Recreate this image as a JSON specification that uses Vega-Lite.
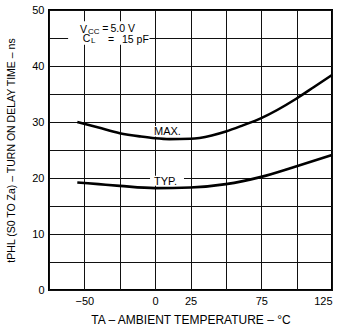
{
  "$schema": "https://vega.github.io/schema/vega-lite/v6.json",
  "width": 283,
  "height": 280,
  "autosize": {"type": "none"},
  "padding": {"left": 49, "top": 10, "right": 7, "bottom": 41},
  "background": "white",
  "config": {
    "font": "Liberation Sans",
    "view": {"stroke": "black", "strokeWidth": 2},
    "axis": {
      "domain": false,
      "ticks": false,
      "grid": true,
      "gridColor": "#111",
      "gridWidth": 1,
      "labelOverlap": false,
      "labelColor": "black",
      "labelFont": "Liberation Sans",
      "labelFontSize": 11,
      "titleFont": "Liberation Sans",
      "titleFontSize": 10.5,
      "titleFontWeight": "normal",
      "titleColor": "black"
    }
  },
  "datasets": {
    "curves": [
      {"series": "MAX", "t": -55, "v": 30.0},
      {"series": "MAX", "t": -40, "v": 29.0},
      {"series": "MAX", "t": -25, "v": 28.0},
      {"series": "MAX", "t": -10, "v": 27.4},
      {"series": "MAX", "t": 0, "v": 27.1},
      {"series": "MAX", "t": 10, "v": 26.95},
      {"series": "MAX", "t": 25, "v": 27.0},
      {"series": "MAX", "t": 40, "v": 27.6},
      {"series": "MAX", "t": 50, "v": 28.3},
      {"series": "MAX", "t": 62, "v": 29.4},
      {"series": "MAX", "t": 75, "v": 30.7},
      {"series": "MAX", "t": 100, "v": 34.2},
      {"series": "MAX", "t": 112, "v": 36.2},
      {"series": "MAX", "t": 125, "v": 38.4},
      {"series": "TYP", "t": -55, "v": 19.2},
      {"series": "TYP", "t": -40, "v": 18.9},
      {"series": "TYP", "t": -25, "v": 18.6},
      {"series": "TYP", "t": 0, "v": 18.2},
      {"series": "TYP", "t": 25, "v": 18.3},
      {"series": "TYP", "t": 50, "v": 18.9},
      {"series": "TYP", "t": 75, "v": 20.2},
      {"series": "TYP", "t": 100, "v": 22.1},
      {"series": "TYP", "t": 125, "v": 24.1}
    ],
    "boxes": [
      {"x1": -61.5, "x2": -4, "y1": 48, "y2": 43.8},
      {"x1": -2.2, "x2": 19.7, "y1": 29.3, "y2": 27.4},
      {"x1": -3.6, "x2": 20.4, "y1": 20.4, "y2": 18.6}
    ],
    "labels": [
      {"x": 8.7, "y": 28.3, "text": "MAX."},
      {"x": 7.3, "y": 19.3, "text": "TYP."}
    ],
    "notes": [
      {"x": -53.1, "y": 46.5, "text": "V"},
      {"x": -37.3, "y": 46.6, "text": "="},
      {"x": -31.6, "y": 46.6, "text": "5.0 V"},
      {"x": -51.2, "y": 44.75, "text": "C"},
      {"x": -33.3, "y": 44.7, "text": "="},
      {"x": -23.4, "y": 44.7, "text": "15 pF"}
    ],
    "subs": [
      {"x": -47.4, "y": 46.1, "text": "CC"},
      {"x": -45.4, "y": 44.4, "text": "L"}
    ]
  },
  "layer": [
    {
      "data": {"name": "boxes"},
      "mark": {"type": "rect", "fill": "white", "stroke": null},
      "encoding": {
        "x": {
          "field": "x1", "type": "quantitative",
          "scale": {"domain": [-75, 125], "nice": false, "zero": false},
          "axis": {
            "values": [-75, -50, -25, 0, 25, 50, 75, 100, 125],
            "tickCount": 50,
            "labelExpr": "indexof([-50, 0, 25, 75, 125], datum.value) >= 0 ? datum.label : ''",
            "labelOverlap": false,
            "labelPadding": 5,
            "title": "TA – AMBIENT TEMPERATURE – °C",
            "titleFontSize": 12,
            "titlePadding": 8
          }
        },
        "x2": {"field": "x2"},
        "y": {
          "field": "y1", "type": "quantitative",
          "scale": {"domain": [0, 50], "nice": false, "zero": false},
          "axis": {
            "values": [0, 5, 10, 15, 20, 25, 30, 35, 40, 45, 50],
            "tickCount": 50,
            "labelExpr": "datum.value % 10 === 0 ? datum.label : ''",
            "labelOverlap": false,
            "labelPadding": 5,
            "title": "tPHL (S0 TO Za) – TURN ON DELAY TIME – ns",
            "titlePadding": 15
          }
        },
        "y2": {"field": "y2"}
      }
    },
    {
      "data": {"name": "curves"},
      "mark": {"type": "line", "color": "black", "strokeWidth": 2.6, "interpolate": "monotone"},
      "encoding": {
        "x": {"field": "t", "type": "quantitative"},
        "y": {"field": "v", "type": "quantitative"},
        "detail": {"field": "series"}
      }
    },
    {
      "data": {"name": "labels"},
      "mark": {"type": "text", "fontSize": 11, "color": "black", "align": "center", "baseline": "middle"},
      "encoding": {
        "x": {"field": "x", "type": "quantitative"},
        "y": {"field": "y", "type": "quantitative"},
        "text": {"field": "text"}
      }
    },
    {
      "data": {"name": "notes"},
      "mark": {"type": "text", "fontSize": 10.5, "color": "black", "align": "left", "baseline": "middle"},
      "encoding": {
        "x": {"field": "x", "type": "quantitative"},
        "y": {"field": "y", "type": "quantitative"},
        "text": {"field": "text"}
      }
    },
    {
      "data": {"name": "subs"},
      "mark": {"type": "text", "fontSize": 8, "color": "black", "align": "left", "baseline": "middle"},
      "encoding": {
        "x": {"field": "x", "type": "quantitative"},
        "y": {"field": "y", "type": "quantitative"},
        "text": {"field": "text"}
      }
    }
  ]
}
